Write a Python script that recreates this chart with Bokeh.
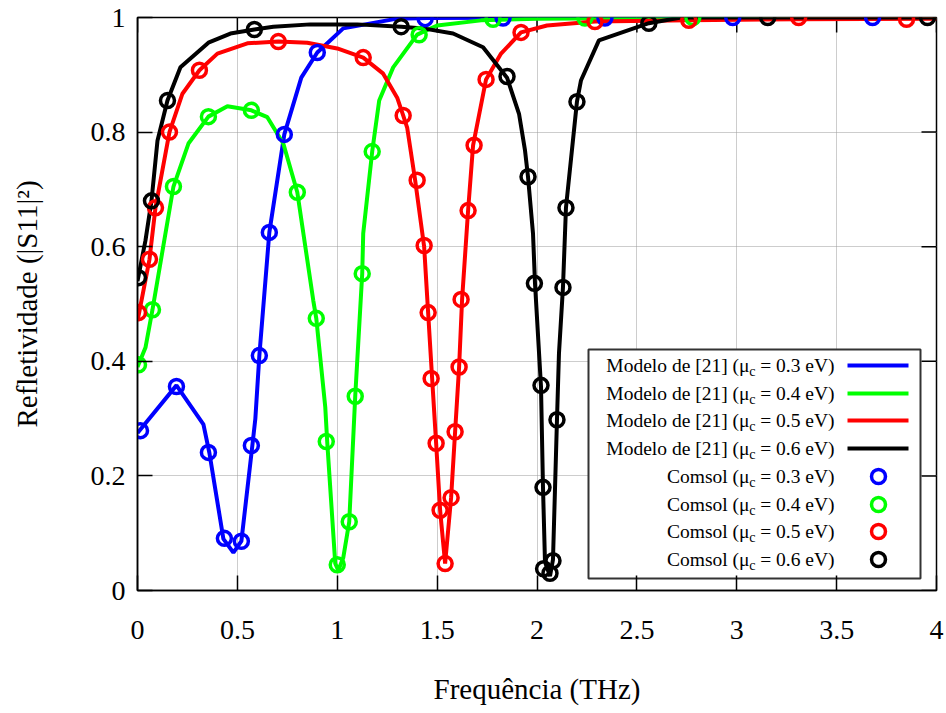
from bokeh.plotting import figure
from bokeh.models import Range1d, FixedTicker
from bokeh.core.properties import value
from bokeh.embed import file_html
from bokeh.resources import INLINE

# ---------------- data ----------------
x_ticks = [0, 0.5, 1, 1.5, 2, 2.5, 3, 3.5, 4]
x_tick_labels = ["0", "0.5", "1", "1.5", "2", "2.5", "3", "3.5", "4"]
y_ticks = [0, 0.2, 0.4, 0.6, 0.8, 1]
y_tick_labels = ["0", "0.2", "0.4", "0.6", "0.8", "1"]

mu_values = ["0.3", "0.4", "0.5", "0.6"]
colors = ["#0000ff", "#00ff00", "#ff0000", "#000000"]

# Modelo de [21] (lines)
model_x_03 = [0.0, 0.195, 0.33, 0.36, 0.43, 0.48, 0.52, 0.575, 0.59, 0.61,
              0.66, 0.735, 0.82, 0.90, 1.03, 1.30, 1.45, 2.0, 3.0, 4.0]
model_y_03 = [0.275, 0.358, 0.29, 0.24, 0.09, 0.066, 0.086, 0.253, 0.30, 0.41,
              0.625, 0.796, 0.895, 0.939, 0.981, 0.998, 0.999, 1.0, 1.0, 1.0]

model_x_04 = [0.0, 0.04, 0.075, 0.18, 0.255, 0.355, 0.45, 0.57, 0.65, 0.73,
              0.80, 0.88, 0.895, 0.94, 0.95, 0.99, 1.005, 1.03, 1.06, 1.09,
              1.125, 1.13, 1.175, 1.21, 1.28, 1.40, 1.50, 1.72, 2.0, 3.0, 4.0]
model_y_04 = [0.39, 0.424, 0.49, 0.705, 0.78, 0.827, 0.845, 0.838, 0.826, 0.78,
              0.695, 0.506, 0.475, 0.32, 0.258, 0.047, 0.035, 0.057, 0.12, 0.339,
              0.553, 0.623, 0.766, 0.855, 0.913, 0.97, 0.986, 0.995, 0.998, 1.0, 1.0]

model_x_05 = [0.0, 0.06, 0.09, 0.16, 0.225, 0.31, 0.40, 0.55, 0.705, 0.85,
              1.0, 1.13, 1.23, 1.30, 1.33, 1.35, 1.39, 1.435, 1.455, 1.475,
              1.495, 1.515, 1.54, 1.57, 1.59, 1.61, 1.625, 1.655, 1.68, 1.745,
              1.82, 1.92, 2.05, 2.29, 2.76, 3.3, 4.0]
model_y_05 = [0.47, 0.578, 0.668, 0.80, 0.867, 0.908, 0.937, 0.955, 0.958, 0.956,
              0.946, 0.930, 0.902, 0.86, 0.829, 0.808, 0.716, 0.60, 0.485, 0.37,
              0.257, 0.14, 0.047, 0.162, 0.277, 0.39, 0.508, 0.663, 0.777, 0.892,
              0.937, 0.974, 0.986, 0.993, 0.995, 0.997, 0.998]

model_x_06 = [0.0, 0.04, 0.07, 0.10, 0.15, 0.215, 0.355, 0.465, 0.585, 0.68,
              0.865, 1.1, 1.32, 1.43, 1.58, 1.73, 1.85, 1.91, 1.94, 1.955,
              1.98, 1.99, 2.02, 2.03, 2.04, 2.065, 2.08, 2.10, 2.11, 2.13,
              2.145, 2.20, 2.22, 2.31, 2.56, 2.72, 3.0, 4.0]
model_y_06 = [0.54, 0.611, 0.68, 0.785, 0.855, 0.913, 0.956, 0.972, 0.979, 0.984,
              0.988, 0.988, 0.984, 0.981, 0.972, 0.948, 0.895, 0.832, 0.768, 0.722,
              0.623, 0.536, 0.356, 0.18, 0.05, 0.025, 0.054, 0.298, 0.414, 0.529,
              0.668, 0.853, 0.89, 0.96, 0.99, 1.0, 1.0, 1.0]

# Comsol (circles)
comsol_x_03 = [0.015, 0.195, 0.355, 0.435, 0.52, 0.57, 0.61, 0.66, 0.735, 0.90,
               1.44, 1.83, 2.34, 2.98, 3.68]
comsol_y_03 = [0.279, 0.356, 0.241, 0.091, 0.086, 0.253, 0.41, 0.625, 0.796, 0.939,
               0.998, 0.999, 0.999, 1.0, 1.0]

comsol_x_04 = [0.005, 0.075, 0.18, 0.355, 0.57, 0.80, 0.895, 0.945, 1.0, 1.06,
               1.09, 1.125, 1.175, 1.41, 1.78, 2.24, 2.78]
comsol_y_04 = [0.394, 0.49, 0.705, 0.827, 0.838, 0.695, 0.475, 0.26, 0.045, 0.12,
               0.339, 0.553, 0.766, 0.97, 0.997, 0.999, 1.0]

comsol_x_05 = [0.005, 0.06, 0.09, 0.16, 0.31, 0.705, 1.13, 1.33, 1.40, 1.435,
               1.455, 1.47, 1.495, 1.515, 1.54, 1.57, 1.59, 1.61, 1.62, 1.655,
               1.685, 1.745, 1.92, 2.29, 2.76, 3.31, 3.85]
comsol_y_05 = [0.485, 0.578, 0.668, 0.80, 0.908, 0.958, 0.930, 0.829, 0.716, 0.602,
               0.485, 0.37, 0.257, 0.14, 0.047, 0.162, 0.277, 0.39, 0.508, 0.663,
               0.777, 0.892, 0.974, 0.993, 0.995, 1.0, 0.997]

comsol_x_06 = [0.005, 0.07, 0.15, 0.585, 1.32, 1.85, 1.955, 1.987, 2.02, 2.03,
               2.033, 2.065, 2.08, 2.10, 2.13, 2.145, 2.20, 2.56, 3.155, 3.955]
comsol_y_06 = [0.546, 0.68, 0.855, 0.979, 0.984, 0.897, 0.722, 0.536, 0.358, 0.18,
               0.038, 0.03, 0.052, 0.298, 0.529, 0.668, 0.853, 0.99, 1.0, 1.0]

model_x = [model_x_03, model_x_04, model_x_05, model_x_06]
model_y = [model_y_03, model_y_04, model_y_05, model_y_06]
comsol_x = [comsol_x_03, comsol_x_04, comsol_x_05, comsol_x_06]
comsol_y = [comsol_y_03, comsol_y_04, comsol_y_05, comsol_y_06]

# ---------------- layout ----------------
W, H = 946, 713
FL, FR, FT, FB = 137, 936, 17, 590   # frame pixel edges
FONT = "Liberation Serif"
TICK_LEN = 15

p = figure(width=W, height=H, x_range=Range1d(0, 4), y_range=Range1d(0, 1),
           output_backend="svg", toolbar_location=None,
           min_border_left=FL, min_border_right=W - FR, min_border_top=FT,
           min_border_bottom=H - FB)
p.background_fill_color = "white"
p.border_fill_color = "white"
p.outline_line_color = "black"
p.outline_line_width = 1.5


def style_axis(ax, ticks, labels):
    ax.ticker = FixedTicker(ticks=ticks)
    ax.major_label_overrides = dict(zip(ticks, labels))
    ax.major_tick_in = TICK_LEN
    ax.major_tick_out = 0
    ax.minor_tick_line_color = None
    ax.major_tick_line_color = "black"
    ax.major_tick_line_width = 1.5
    ax.axis_line_color = "black"
    ax.axis_line_width = 1.5
    ax.major_label_text_font = FONT
    ax.major_label_text_color = "black"
    ax.major_label_text_font_size = "28px"
    ax.axis_label_text_font = FONT
    ax.axis_label_text_font_size = "29px"
    ax.axis_label_text_font_style = "normal"
    ax.axis_label_text_color = "black"


style_axis(p.xaxis[0], x_ticks, x_tick_labels)
style_axis(p.yaxis[0], y_ticks, y_tick_labels)
p.xaxis[0].major_label_standoff = 30
p.yaxis[0].major_label_standoff = 12
p.xaxis[0].axis_label = "Frequência (THz)"
p.yaxis[0].axis_label = "Refletividade (|S11|²)"
p.xaxis[0].axis_label_standoff = 31
p.yaxis[0].axis_label_standoff = 45

p.xgrid.ticker = FixedTicker(ticks=x_ticks)
p.ygrid.ticker = FixedTicker(ticks=y_ticks)
for g in (p.xgrid[0], p.ygrid[0]):
    g.grid_line_color = "#9a9a9a"
    g.grid_line_dash = "1 1"
    g.grid_line_width = 1


def px2x(px):
    return (px - FL) / (FR - FL) * 4.0


def px2y(py):
    return (FB - py) / (FB - FT) * 1.0


# mirrored inward ticks on the top and right edges (same tick lists)
dx_tick = 4.0 * TICK_LEN / (FR - FL)
dy_tick = 1.0 * TICK_LEN / (FB - FT)
p.segment(x0=x_ticks, y0=[1.0] * len(x_ticks), x1=x_ticks, y1=[1.0 - dy_tick] * len(x_ticks),
          line_color="black", line_width=1.5)
p.segment(x0=[4.0] * len(y_ticks), y0=y_ticks, x1=[4.0 - dx_tick] * len(y_ticks), y1=y_ticks,
          line_color="black", line_width=1.5)

# ---------------- series ----------------
for xs, ys, c in zip(model_x, model_y, colors):
    p.line(xs, ys, line_color=c, line_width=4)
for xs, ys, c in zip(comsol_x, comsol_y, colors):
    p.scatter(xs, ys, marker="circle", size=14, fill_color=None,
              line_color=c, line_width=3.5)

# ---------------- legend (built by hand: text right-aligned, sample right) ----------------
leg_l, leg_r, leg_t, leg_b = 588, 920, 349, 578
p.quad(left=[px2x(leg_l)], right=[px2x(leg_r)], top=[px2y(leg_t)], bottom=[px2y(leg_b)],
       fill_color="white", line_color="#333333", line_width=2)

row_px = [365, 393, 420, 448, 476, 504, 531, 559]
text_right_px = 834
part3_w = 79   # width of " = 0.3 eV)" at 19.5px
c_w = 6

labels_prefix = ["Modelo de [21] (μ"] * 4 + ["Comsol (μ"] * 4
labels_suffix = ["\u00a0= %s eV)" % m for m in mu_values] * 2
rows_y = [px2y(r) for r in row_px]
tx = [px2x(text_right_px)] * 8

p.text(x=tx, y=rows_y, text=labels_suffix, text_align="right", text_baseline="middle",
       text_font=value(FONT), text_font_size="19.5px", text_color="black")
p.text(x=tx, y=rows_y, text=["c"] * 8, text_align="right", text_baseline="middle",
       text_font=value(FONT), text_font_size="14px", text_color="black",
       x_offset=-part3_w, y_offset=6)
p.text(x=tx, y=rows_y, text=labels_prefix, text_align="right", text_baseline="middle",
       text_font=value(FONT), text_font_size="19.5px", text_color="black",
       x_offset=-(part3_w + c_w))

for i, c in enumerate(colors):
    p.segment(x0=[px2x(847)], y0=[rows_y[i]], x1=[px2x(908)], y1=[rows_y[i]],
              line_color=c, line_width=4)
    p.scatter([px2x(878)], [rows_y[i + 4]], marker="circle", size=14, fill_color=None,
              line_color=c, line_width=3.5)

open("out.html", "w").write(file_html(p, INLINE))
